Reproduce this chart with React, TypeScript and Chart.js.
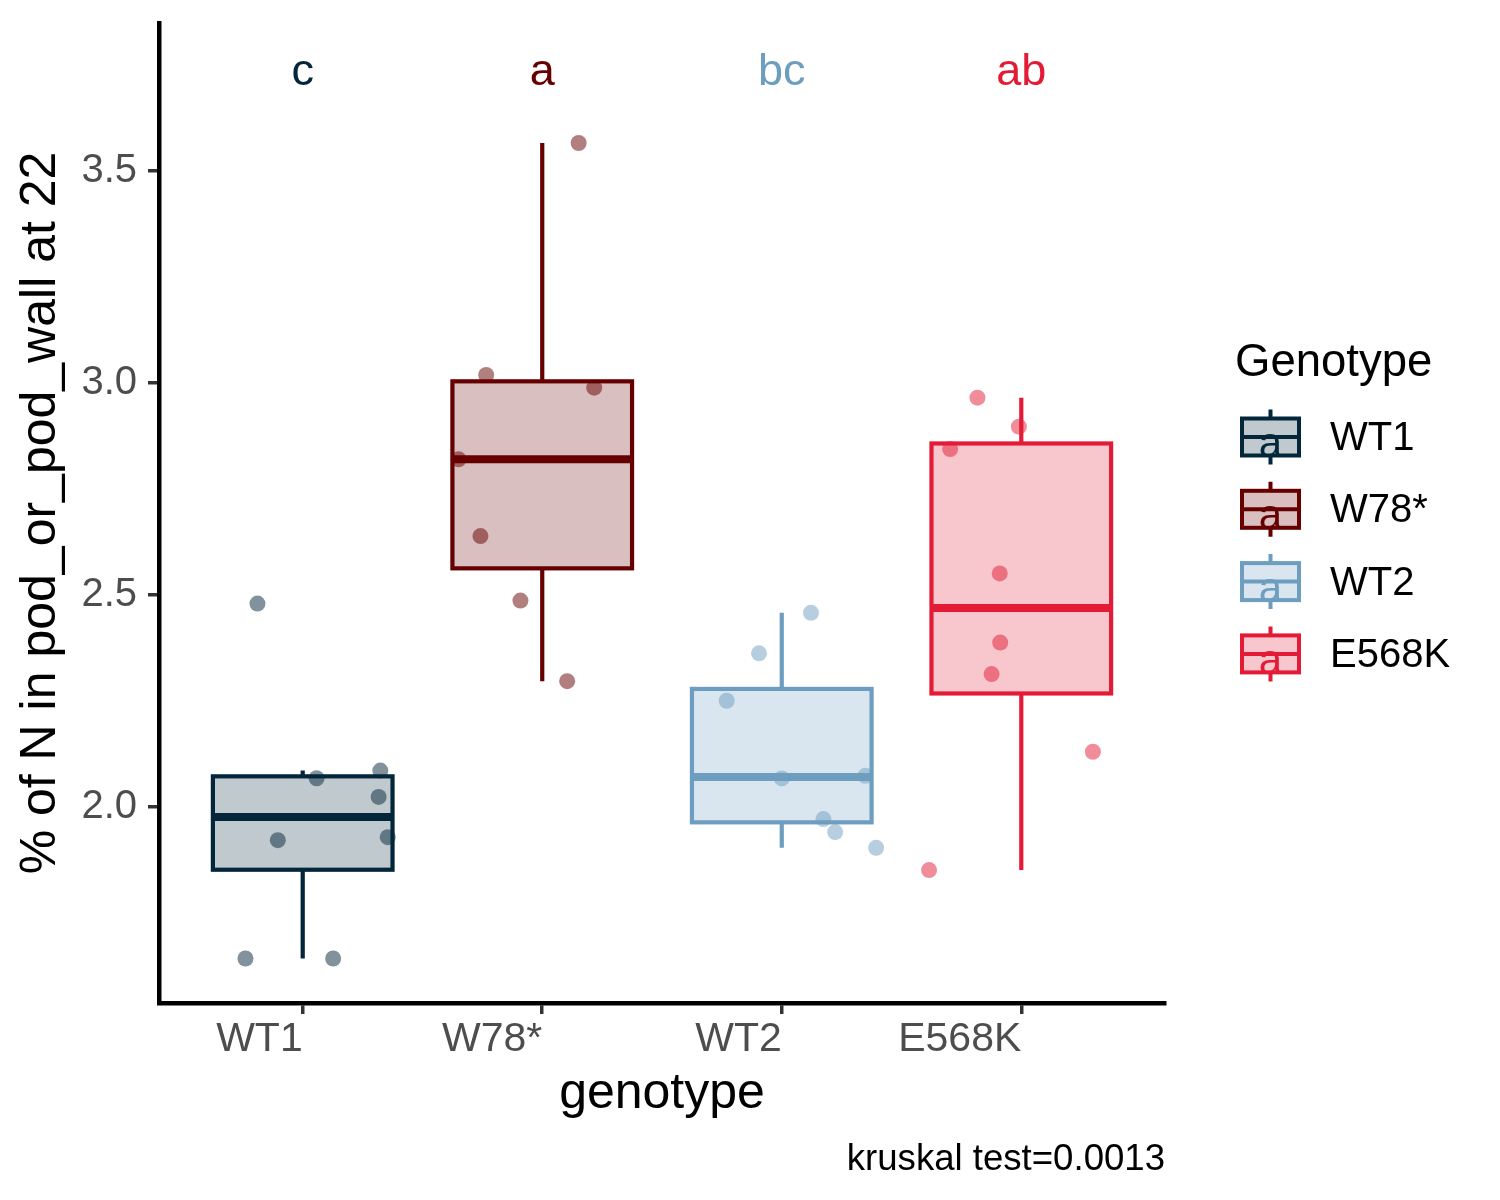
import React, { useEffect, useRef } from "react";
import { Chart, registerables } from "chart.js";

Chart.register(...registerables);

// ---------- data ----------
const categories = ["WT1", "W78*", "WT2", "E568K"];
const groupColors = ["#03263B", "#660000", "#6D9DBF", "#E41B36"];
const sigLetters = ["c", "a", "bc", "ab"];
const sigLetterY = 3.733;
const yTickValues = [2.0, 2.5, 3.0, 3.5];

const valuesWT1 = [2.480, 2.068, 2.086, 2.024, 1.922, 1.929, 1.643, 1.643];
const jitterWT1 = [-0.189, 0.058, 0.324, 0.317, -0.104, 0.355, -0.239, 0.127];

const valuesW78 = [3.566, 3.019, 2.989, 2.820, 2.639, 2.487, 2.297];
const jitterW78 = [0.152, -0.234, 0.217, -0.349, -0.258, -0.091, 0.104];

const valuesWT2 = [2.458, 2.3625, 2.2507, 2.0677, 2.0738, 1.9717, 1.941, 1.904];
const jitterWT2 = [0.122, -0.095, -0.230, 0.0, 0.349, 0.174, 0.223, 0.394];

const valuesE568K = [2.9654, 2.897, 2.8443, 2.551, 2.388, 2.3137, 2.1305, 1.8514];
const jitterE568K = [-0.183, -0.010, -0.297, -0.090, -0.088, -0.124, 0.299, -0.385];

const groupValues = [valuesWT1, valuesW78, valuesWT2, valuesE568K];
const groupJitter = [jitterWT1, jitterW78, jitterWT2, jitterE568K];

const yMin = 1.538;
const yMax = 3.849;
const xMin = 0.4;
const xMax = 4.6;

const xTitle = "genotype";
const yTitle = "% of N in pod_or_pod_wall at 22";
const legendTitle = "Genotype";
const caption = "kruskal test=0.0013";

// ---------- helpers ----------
const FONT = '"Liberation Sans", Arial, Helvetica, sans-serif';
const BOX_WIDTH = 0.75;

function rgba(hex: string, a: number) {
  const n = parseInt(hex.slice(1), 16);
  return `rgba(${(n >> 16) & 255},${(n >> 8) & 255},${n & 255},${a})`;
}

function quantile(sorted: number[], p: number) {
  const h = (sorted.length - 1) * p;
  const lo = Math.floor(h);
  const hi = Math.ceil(h);
  return sorted[lo] + (h - lo) * (sorted[hi] - sorted[lo]);
}

function boxStats(values: number[]) {
  const s = [...values].sort((a, b) => a - b);
  const q1 = quantile(s, 0.25);
  const med = quantile(s, 0.5);
  const q3 = quantile(s, 0.75);
  const iqr = q3 - q1;
  const lo = Math.min(...s.filter((v) => v >= q1 - 1.5 * iqr));
  const hi = Math.max(...s.filter((v) => v <= q3 + 1.5 * iqr));
  return { q1, med, q3, lo, hi };
}

const stats = groupValues.map(boxStats);

const boxPlugin = {
  id: "boxplots",
  beforeDatasetsDraw(chart: any) {
    const { ctx, scales } = chart;
    const x = scales.x;
    const y = scales.y;
    stats.forEach((s, i) => {
      const c = groupColors[i];
      const cx = x.getPixelForValue(i + 1);
      const xl = x.getPixelForValue(i + 1 - BOX_WIDTH / 2);
      const xr = x.getPixelForValue(i + 1 + BOX_WIDTH / 2);
      const yq1 = y.getPixelForValue(s.q1);
      const yq3 = y.getPixelForValue(s.q3);
      const ymed = y.getPixelForValue(s.med);
      const ylo = y.getPixelForValue(s.lo);
      const yhi = y.getPixelForValue(s.hi);
      ctx.save();
      ctx.strokeStyle = c;
      ctx.lineWidth = 4.2;
      ctx.lineCap = "butt";
      ctx.beginPath();
      ctx.moveTo(cx, yq3);
      ctx.lineTo(cx, yhi);
      ctx.moveTo(cx, yq1);
      ctx.lineTo(cx, ylo);
      ctx.stroke();
      ctx.fillStyle = rgba(c, 0.25);
      ctx.fillRect(xl, yq3, xr - xl, yq1 - yq3);
      ctx.strokeRect(xl, yq3, xr - xl, yq1 - yq3);
      ctx.lineWidth = 8;
      ctx.beginPath();
      ctx.moveTo(xl, ymed);
      ctx.lineTo(xr, ymed);
      ctx.stroke();
      ctx.restore();
    });
  },
  afterDatasetsDraw(chart: any) {
    const { ctx, scales } = chart;
    ctx.save();
    ctx.font = `45px ${FONT}`;
    ctx.textAlign = "center";
    ctx.textBaseline = "middle";
    sigLetters.forEach((t, i) => {
      ctx.fillStyle = groupColors[i];
      ctx.fillText(t, scales.x.getPixelForValue(i + 1), scales.y.getPixelForValue(sigLetterY));
    });
    ctx.restore();
  },
  afterDraw(chart: any) {
    const { ctx, chartArea } = chart;
    ctx.save();
    // caption
    ctx.fillStyle = "#000";
    ctx.font = `36.6px ${FONT}`;
    ctx.textAlign = "right";
    ctx.textBaseline = "alphabetic";
    ctx.fillText(caption, chartArea.right, chartArea.bottom + 167);

    // legend
    const midY = (chartArea.top + chartArea.bottom) / 2;
    ctx.textAlign = "left";
    ctx.font = `45.5px ${FONT}`;
    ctx.fillText(legendTitle, chartArea.right + 70, midY - 137);
    const kx = chartArea.right + 105.5;
    categories.forEach((name, i) => {
      const c = groupColors[i];
      const ky = midY - 76 + i * 72.3;
      ctx.strokeStyle = c;
      ctx.lineWidth = 4;
      ctx.beginPath();
      ctx.moveTo(kx, ky - 27.5);
      ctx.lineTo(kx, ky - 18.5);
      ctx.moveTo(kx, ky + 18.5);
      ctx.lineTo(kx, ky + 27.5);
      ctx.stroke();
      ctx.fillStyle = "#fff";
      ctx.fillRect(kx - 28.5, ky - 18.5, 57, 37);
      ctx.fillStyle = rgba(c, 0.25);
      ctx.fillRect(kx - 28.5, ky - 18.5, 57, 37);
      ctx.strokeRect(kx - 28.5, ky - 18.5, 57, 37);
      ctx.beginPath();
      ctx.moveTo(kx - 28.5, ky);
      ctx.lineTo(kx + 28.5, ky);
      ctx.stroke();
      ctx.fillStyle = c;
      ctx.font = `42px ${FONT}`;
      ctx.textAlign = "center";
      ctx.textBaseline = "alphabetic";
      ctx.fillText("a", kx, ky + 20);
      ctx.fillStyle = "#000";
      ctx.font = `40px ${FONT}`;
      ctx.textAlign = "left";
      ctx.textBaseline = "middle";
      ctx.fillText(name, chartArea.right + 165, ky + 2);
      ctx.textBaseline = "alphabetic";
    });
    ctx.restore();
  },
};

export default function App() {
  const ref = useRef<HTMLCanvasElement>(null);
  useEffect(() => {
    document.body.style.margin = "0";
    const datasets = categories.map((name, i) => ({
      label: name,
      data: groupValues[i].map((v, j) => ({ x: i + 1 + groupJitter[i][j], y: v })),
      backgroundColor: rgba(groupColors[i], 0.5),
      borderWidth: 0,
      pointRadius: 8,
      pointHoverRadius: 8,
      showLine: false,
    }));
    const chart = new Chart(ref.current as HTMLCanvasElement, {
      type: "scatter",
      data: { datasets },
      plugins: [boxPlugin],
      options: {
        animation: false,
        responsive: true,
        maintainAspectRatio: false,
        events: [],
        layout: { padding: { left: 0, top: 23, right: 335, bottom: 0 } },
        plugins: { legend: { display: false }, tooltip: { enabled: false } },
        scales: {
          x: {
            type: "linear",
            min: xMin,
            max: xMax,
            afterBuildTicks: (s: any) => {
              s.ticks = categories.map((_, i) => ({ value: i + 1 }));
            },
            afterFit: (s: any) => {
              s.height = 197;
              s.paddingLeft = 0;
              s.paddingRight = 0;
            },
            ticks: {
              callback: (v: any) => categories[Math.round(Number(v)) - 1] ?? "",
              align: "end",
              color: "#4D4D4D",
              font: { family: FONT, size: 41 },
              padding: 1,
              maxRotation: 0,
              autoSkip: false,
            },
            grid: {
              display: true,
              drawOnChartArea: false,
              drawTicks: true,
              tickLength: 11,
              color: "#333333",
              lineWidth: 3.5,
            },
            border: { display: true, color: "#000000", width: 4.5 },
            title: {
              display: true,
              text: xTitle,
              color: "#000000",
              font: { family: FONT, size: 50 },
              padding: { top: 0, bottom: 76 },
            },
          },
          y: {
            type: "linear",
            min: yMin,
            max: yMax,
            afterBuildTicks: (s: any) => {
              s.ticks = yTickValues.map((v) => ({ value: v }));
            },
            afterFit: (s: any) => {
              s.width = 159;
              s.paddingTop = 0;
              s.paddingBottom = 0;
            },
            ticks: {
              callback: (v: any) => Number(v).toFixed(1),
              color: "#4D4D4D",
              font: { family: FONT, size: 40 },
              padding: 11,
            },
            grid: {
              display: true,
              drawOnChartArea: false,
              drawTicks: true,
              tickLength: 11,
              color: "#333333",
              lineWidth: 3.5,
            },
            border: { display: true, color: "#000000", width: 4.5 },
            title: {
              display: true,
              text: yTitle,
              color: "#000000",
              font: { family: FONT, size: 50 },
              padding: { top: 11, bottom: 0 },
            },
          },
        },
      } as any,
    });
    return () => chart.destroy();
  }, []);
  return (
    <div style={{ width: 1500, height: 1200, position: "relative" }}>
      <canvas ref={ref} />
    </div>
  );
}
